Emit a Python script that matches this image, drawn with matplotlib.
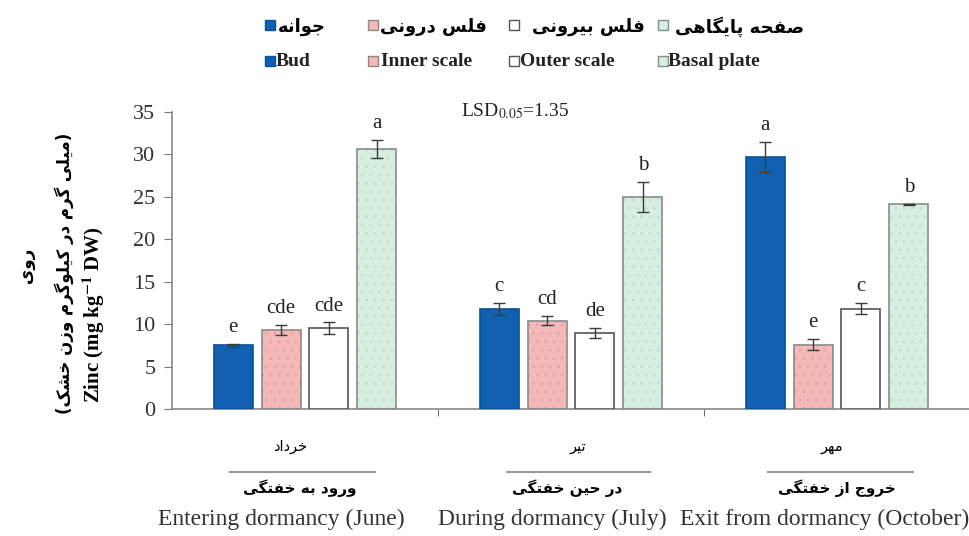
import matplotlib
matplotlib.use("Agg")
import matplotlib.pyplot as plt
from matplotlib.patches import Rectangle
from matplotlib.lines import Line2D

# Zinc content of corm parts (mg/kg DW)
stages = ["Entering dormancy (June)", "During dormancy (July)", "Exit from dormancy (October)"]
stages_fa = ["ورود به خفتگی", "در حین خفتگی", "خروج از خفتگی"]
months_fa = ["خرداد", "تیر", "مهر"]
parts = ["Bud", "Inner scale", "Outer scale", "Basal plate"]
parts_fa = ["جوانه", "فلس درونی", "فلس بیرونی", "صفحه پایگاهی"]

bud = [7.5, 11.8, 29.7]
inner = [9.3, 10.4, 7.6]
outer = [9.5, 9.0, 11.8]
basal = [30.6, 25.0, 24.1]
bud_err = [0.2, 0.7, 1.75]
inner_err = [0.6, 0.55, 0.65]
outer_err = [0.7, 0.6, 0.65]
basal_err = [1.05, 1.8, 0.1]
bud_grp = ["e", "c", "a"]
inner_grp = ["cde", "cd", "e"]
outer_grp = ["cde", "de", "c"]
basal_grp = ["a", "b", "b"]
lsd = 1.35

# matplotlib has no Arabic shaping, so pick presentation forms by hand
# (isolated, final, initial, medial); None = letter does not join to the next one
FORMS = {
    'ا': ('\uFE8D', '\uFE8E', None, None),
    'ب': ('\uFE8F', '\uFE90', '\uFE91', '\uFE92'),
    'پ': ('\uFB56', '\uFB57', '\uFB58', '\uFB59'),
    'ت': ('\uFE95', '\uFE96', '\uFE97', '\uFE98'),
    'ج': ('\uFE9D', '\uFE9E', '\uFE9F', '\uFEA0'),
    'ح': ('\uFEA1', '\uFEA2', '\uFEA3', '\uFEA4'),
    'خ': ('\uFEA5', '\uFEA6', '\uFEA7', '\uFEA8'),
    'د': ('\uFEA9', '\uFEAA', None, None),
    'ر': ('\uFEAD', '\uFEAE', None, None),
    'ز': ('\uFEAF', '\uFEB0', None, None),
    'س': ('\uFEB1', '\uFEB2', '\uFEB3', '\uFEB4'),
    'ش': ('\uFEB5', '\uFEB6', '\uFEB7', '\uFEB8'),
    'ص': ('\uFEB9', '\uFEBA', '\uFEBB', '\uFEBC'),
    'ف': ('\uFED1', '\uFED2', '\uFED3', '\uFED4'),
    'ک': ('\uFB8E', '\uFB8F', '\uFB90', '\uFB91'),
    'گ': ('\uFB92', '\uFB93', '\uFB94', '\uFB95'),
    'ل': ('\uFEDD', '\uFEDE', '\uFEDF', '\uFEE0'),
    'م': ('\uFEE1', '\uFEE2', '\uFEE3', '\uFEE4'),
    'ن': ('\uFEE5', '\uFEE6', '\uFEE7', '\uFEE8'),
    'ه': ('\uFEE9', '\uFEEA', '\uFEEB', '\uFEEC'),
    'و': ('\uFEED', '\uFEEE', None, None),
    'ی': ('\uFBFC', '\uFBFD', '\uFBFE', '\uFBFF'),
}


def fa(text):
    out = []
    for i, ch in enumerate(text):
        if ch not in FORMS:
            out.append(ch)
            continue
        prev = text[i - 1] if i > 0 else ''
        nxt = text[i + 1] if i + 1 < len(text) else ''
        iso, fin, ini, med = FORMS[ch]
        join_prev = prev in FORMS and FORMS[prev][2] is not None
        join_next = nxt in FORMS and ini is not None
        if join_prev and join_next:
            out.append(med)
        elif join_prev:
            out.append(fin)
        elif join_next:
            out.append(ini)
        else:
            out.append(iso)
    s = ''.join(reversed(out))
    return s.translate(str.maketrans('()', ')('))


plt.rcParams['font.family'] = ['Liberation Serif', 'DejaVu Sans']
plt.rcParams['mathtext.fontset'] = 'stix'
plt.rcParams['hatch.linewidth'] = 1.0
FA = ['DejaVu Sans']

W, H = 970, 536


def px(x, y):
    return x / W, 1 - y / H


fig = plt.figure(figsize=(9.7, 5.36), dpi=100)
ax = fig.add_axes([172 / W, 1 - 409 / H, (W - 172) / W, (409 - 112) / H])

series = [bud, inner, outer, basal]
errs = [bud_err, inner_err, outer_err, basal_err]
groups = [bud_grp, inner_grp, outer_grp, basal_grp]
faces = ['#1261b0', '#f6b9b9', '#ffffff', '#d7efe1']
dots = [None, '#e8a4a4', None, '#c0e0cc']
edges = ['#0d4f94', '#8a8a8a', '#555555', '#8a8a8a']
offsets = [-0.27, -0.09, 0.09, 0.27]
width = 0.147
x = list(range(len(stages)))

for vals, err, grp, fc, dc, ec, off in zip(series, errs, groups, faces, dots, edges, offsets):
    xs = [i + off for i in x]
    if dc is not None:
        ax.bar(xs, vals, width, color=fc, hatch='..', edgecolor=dc, linewidth=0, zorder=2)
        ax.bar(xs, vals, width, fill=False, edgecolor=ec, linewidth=1.2, zorder=3)
    else:
        ax.bar(xs, vals, width, color=fc, edgecolor=ec, linewidth=1.2, zorder=3)
    ax.errorbar(xs, vals, yerr=err, fmt='none', ecolor='#3a3a3a', elinewidth=1,
                capsize=4, capthick=1, zorder=4)
    for xi, v, e, g in zip(xs, vals, err, grp):
        ax.annotate(g, (xi, v + e), xytext=(0, 5), textcoords='offset points',
                    ha='center', va='bottom', fontsize=15, color='#222222')

ax.set_xlim(-0.5, 2.5)
ax.set_ylim(0, 35)
ax.set_yticks(range(0, 36, 5))
ax.set_xticks([])
ax.set_xticks([0.5, 1.5], minor=True)
ax.tick_params(axis='x', which='minor', length=5, color='#555555')
ax.tick_params(axis='y', length=6, color='#777777', labelsize=16, labelcolor='#333333', pad=6)
for s in ['top', 'right']:
    ax.spines[s].set_visible(False)
for s in ['left', 'bottom']:
    ax.spines[s].set_color('#888888')
    ax.spines[s].set_linewidth(1.2)

fig.text(*px(515, 111), 'LSD$_{0.05}$=%.2f' % lsd, ha='center', va='center',
         fontsize=14, color='#222222')

# y axis titles
fig.text(*px(27, 265), fa('روی'), rotation=90, ha='center', va='center',
         family=FA, fontweight='bold', fontsize=12)
fig.text(*px(64, 273), fa('(میلی گرم در کیلوگرم وزن خشک)'), rotation=90,
         ha='center', va='center', family=FA, fontweight='bold', fontsize=12)
fig.text(*px(94, 315), 'Zinc (mg kg$^{\\mathbf{-1}}$ DW)', rotation=90, ha='center',
         va='center', fontweight='bold', fontsize=15)

# legend, two rows (Persian over English)
sq_x = [265, 368, 509, 658]
txt_fa_x = [278, 380, 532, 675]
txt_en_x = [276, 381, 520, 668]
for i in range(len(parts)):
    for yc in (25, 61):
        fig.add_artist(Rectangle(px(sq_x[i], yc + 5), 10 / W, 10 / H, transform=fig.transFigure,
                                 facecolor=faces[i], edgecolor=edges[i], linewidth=1))
    fig.text(*px(txt_fa_x[i], 27), fa(parts_fa[i]), ha='left', va='center',
             family=FA, fontweight='bold', fontsize=13)
    fig.text(*px(txt_en_x[i], 61), parts[i], ha='left', va='center',
             fontweight='bold', fontsize=14, color='#222222')

# category labels below the axis
month_x = [290, 578, 832]
line_x = [(230, 375), (507, 650), (768, 913)]
stage_fa_x = [300, 567, 837]
stage_en_x = [281, 552, 825]
for i in range(len(stages)):
    fig.text(*px(month_x[i], 446), fa(months_fa[i]), ha='center', va='center',
             family=FA, fontsize=10.5)
    x0, x1 = line_x[i]
    fig.add_artist(Line2D([x0 / W, x1 / W], [1 - 472 / H] * 2, transform=fig.transFigure,
                          color='#999999', linewidth=1.5))
    fig.text(*px(stage_fa_x[i], 488), fa(stages_fa[i]), ha='center', va='center',
             family=FA, fontweight='bold', fontsize=11)
    fig.text(*px(stage_en_x[i], 519), stages[i], ha='center', va='center',
             fontsize=17, color='#333333')

fig.savefig('out.png', dpi=100)
